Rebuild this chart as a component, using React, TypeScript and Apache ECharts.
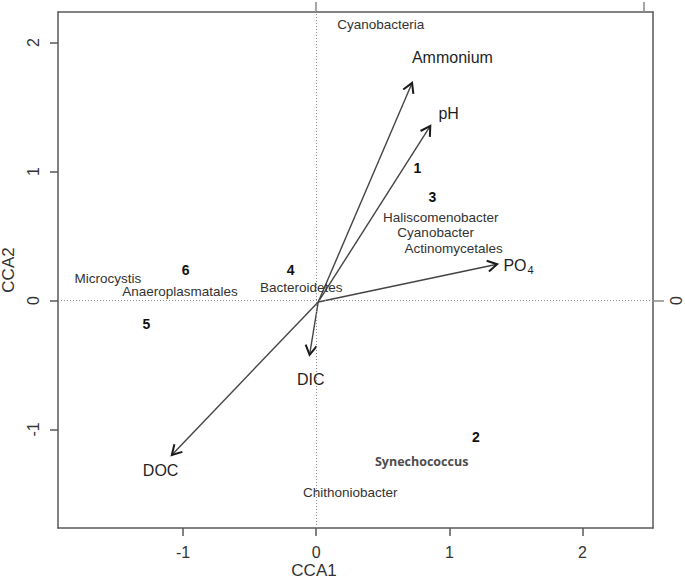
import React, { useEffect, useRef } from 'react';
import * as echarts from 'echarts';

// Environmental vectors (biplot arrows)
const envNames = ['Ammonium', 'pH', 'PO{s|4}', 'DIC', 'DOC'];
const envX = [0.72, 0.857, 1.359, -0.05, -1.085];
const envY = [1.686, 1.353, 0.281, -0.422, -1.198];
const envLabelX = [1.023, 0.995, 1.52, -0.041, -1.169];
const envLabelY = [1.884, 1.453, 0.27, -0.616, -1.322];
const arrowOrigin = [0.015, -0.012];

// Sites
const siteNames = ['1', '2', '3', '4', '5', '6'];
const siteX = [0.76, 1.2, 0.872, -0.193, -1.276, -0.981];
const siteY = [1.027, -1.056, 0.802, 0.236, -0.182, 0.236];

// Taxa
const taxaNames = [
  'Cyanobacteria',
  'Haliscomenobacter',
  'Cyanobacter',
  'Actinomycetales',
  'Microcystis',
  'Anaeroplasmatales',
  'Bacteroidetes',
  'Chithoniobacter',
];
const taxaX = [0.485, 0.936, 0.897, 1.032, -1.565, -1.023, -0.113, 0.256];
const taxaY = [2.136, 0.644, 0.524, 0.404, 0.172, 0.066, 0.097, -1.492];

const boldTaxaNames = ['Synechococcus'];
const boldTaxaX = [0.792];
const boldTaxaY = [-1.25];

// Axes
const xTicks = [-1, 0, 1, 2];
const yTicks = [-1, 0, 1, 2];
const topTicks = [0, 2.46];
const rightTicks = [0];
const xMin = -1.94;
const xMax = 2.53;
const yMin = -1.764;
const yMax = 2.236;

const FONT = "'Liberation Sans', Arial, sans-serif";
const AXIS_COLOR = '#595959';

function textSeries(names: string[], xs: number[], ys: number[], style: any) {
  return {
    type: 'custom',
    coordinateSystem: 'cartesian2d',
    silent: true,
    z: 5,
    data: xs.map((x, i) => [x, ys[i]]),
    renderItem: (params: any, api: any) => {
      const p = api.coord([api.value(0), api.value(1)]);
      return {
        type: 'text',
        x: p[0],
        y: p[1],
        style: {
          text: names[params.dataIndex],
          align: 'center',
          verticalAlign: 'middle',
          fontFamily: FONT,
          ...style,
        },
      };
    },
  };
}

export default function App() {
  const ref = useRef<HTMLDivElement>(null);

  useEffect(() => {
    if (!ref.current) return;
    const chart = echarts.init(ref.current, null, { renderer: 'svg' });

    const option: any = {
      animation: false,
      backgroundColor: '#ffffff',
      grid: { left: 58, right: 32, top: 12, bottom: 53, outerBoundsMode: 'none' },
      xAxis: [
        {
          type: 'value',
          position: 'bottom',
          min: xMin,
          max: xMax,
          axisLine: { show: true, onZero: false, lineStyle: { color: AXIS_COLOR, width: 1.5 } },
          axisTick: { show: true, length: 8, customValues: xTicks, lineStyle: { color: AXIS_COLOR, width: 1.5 } },
          axisLabel: { customValues: xTicks, margin: 16, fontSize: 16, lineHeight: 16, color: '#333', fontFamily: FONT },
          splitLine: { show: false },
          name: 'CCA1',
          nameLocation: 'middle',
          nameGap: 34,
          nameMoveOverlap: false,
          nameTextStyle: { fontSize: 17, lineHeight: 17, color: '#333', fontFamily: FONT, padding: [0, 83, 0, 0] },
        },
        {
          type: 'value',
          position: 'top',
          min: xMin,
          max: xMax,
          axisLine: { show: true, onZero: false, lineStyle: { color: AXIS_COLOR, width: 1.5 } },
          axisTick: { show: true, length: 10, customValues: topTicks, lineStyle: { color: '#888', width: 1.5 } },
          axisLabel: { show: false },
          splitLine: { show: false },
        },
      ],
      yAxis: [
        {
          type: 'value',
          position: 'left',
          min: yMin,
          max: yMax,
          axisLine: { show: true, onZero: false, lineStyle: { color: AXIS_COLOR, width: 1.5 } },
          axisTick: { show: true, length: 8, customValues: yTicks, lineStyle: { color: AXIS_COLOR, width: 1.5 } },
          axisLabel: { customValues: yTicks, rotate: 90, margin: 17, fontSize: 16, lineHeight: 16, color: '#333', fontFamily: FONT },
          splitLine: { show: false },
          name: 'CCA2',
          nameLocation: 'middle',
          nameGap: 41,
          nameMoveOverlap: false,
          nameRotate: 90,
          nameTextStyle: { fontSize: 17, lineHeight: 17, color: '#333', fontFamily: FONT },
        },
        {
          type: 'value',
          position: 'right',
          min: yMin,
          max: yMax,
          axisLine: { show: true, onZero: false, lineStyle: { color: AXIS_COLOR, width: 1.5 } },
          axisTick: { show: true, length: 11, customValues: rightTicks, lineStyle: { color: '#888', width: 1.5 } },
          axisLabel: { customValues: rightTicks, rotate: 90, margin: 16, fontSize: 16, lineHeight: 14, color: '#333', fontFamily: FONT },
          splitLine: { show: false },
        },
      ],
      series: [
        {
          type: 'line',
          data: [[0, 0]],
          symbol: 'none',
          lineStyle: { opacity: 0 },
          silent: true,
          markLine: {
            silent: true,
            symbol: 'none',
            label: { show: false },
            lineStyle: { type: [1, 2], color: '#8c8c8c', width: 1 },
            data: [{ xAxis: 0 }, { yAxis: 0 }],
          },
        },
        {
          type: 'custom',
          coordinateSystem: 'cartesian2d',
          silent: true,
          z: 4,
          data: envX.map((x, i) => [x, envY[i]]),
          renderItem: (params: any, api: any) => {
            const o = api.coord(arrowOrigin);
            const t = api.coord([api.value(0), api.value(1)]);
            const ang = Math.atan2(t[1] - o[1], t[0] - o[0]);
            const L = 11;
            const a = Math.PI / 6;
            const p1 = [t[0] - L * Math.cos(ang - a), t[1] - L * Math.sin(ang - a)];
            const p2 = [t[0] - L * Math.cos(ang + a), t[1] - L * Math.sin(ang + a)];
            return {
              type: 'group',
              children: [
                {
                  type: 'line',
                  shape: { x1: o[0], y1: o[1], x2: t[0], y2: t[1] },
                  style: { stroke: '#444', lineWidth: 1.4 },
                },
                {
                  type: 'polyline',
                  shape: { points: [p1, t, p2] },
                  style: { stroke: '#1a1a1a', lineWidth: 2, fill: null },
                },
              ],
            };
          },
        },
        textSeries(envNames, envLabelX, envLabelY, {
          fontSize: 16,
          lineHeight: 16,
          fill: '#1f1f1f',
          rich: { s: { fontSize: 11, fontFamily: FONT, fill: '#1f1f1f', padding: [9, 0, 0, 1] } },
        }),
        textSeries(siteNames, siteX, siteY, { fontSize: 14, lineHeight: 14, fontWeight: 'bold', fill: '#111' }),
        textSeries(taxaNames, taxaX, taxaY, { fontSize: 13.5, lineHeight: 13, fill: '#333' }),
        textSeries(boldTaxaNames, boldTaxaX, boldTaxaY, {
          fontSize: 12.5,
          lineHeight: 13,
          fontWeight: 'bold',
          fill: '#4d4d4d',
          fontFamily: "'Open Sans', 'Liberation Sans', sans-serif",
        }),
      ],
    };

    chart.setOption(option);
    return () => chart.dispose();
  }, []);

  return (
    <div
      ref={ref}
      style={{ position: 'fixed', left: 0, top: 0, width: 685, height: 581, background: '#fff' }}
    />
  );
}
